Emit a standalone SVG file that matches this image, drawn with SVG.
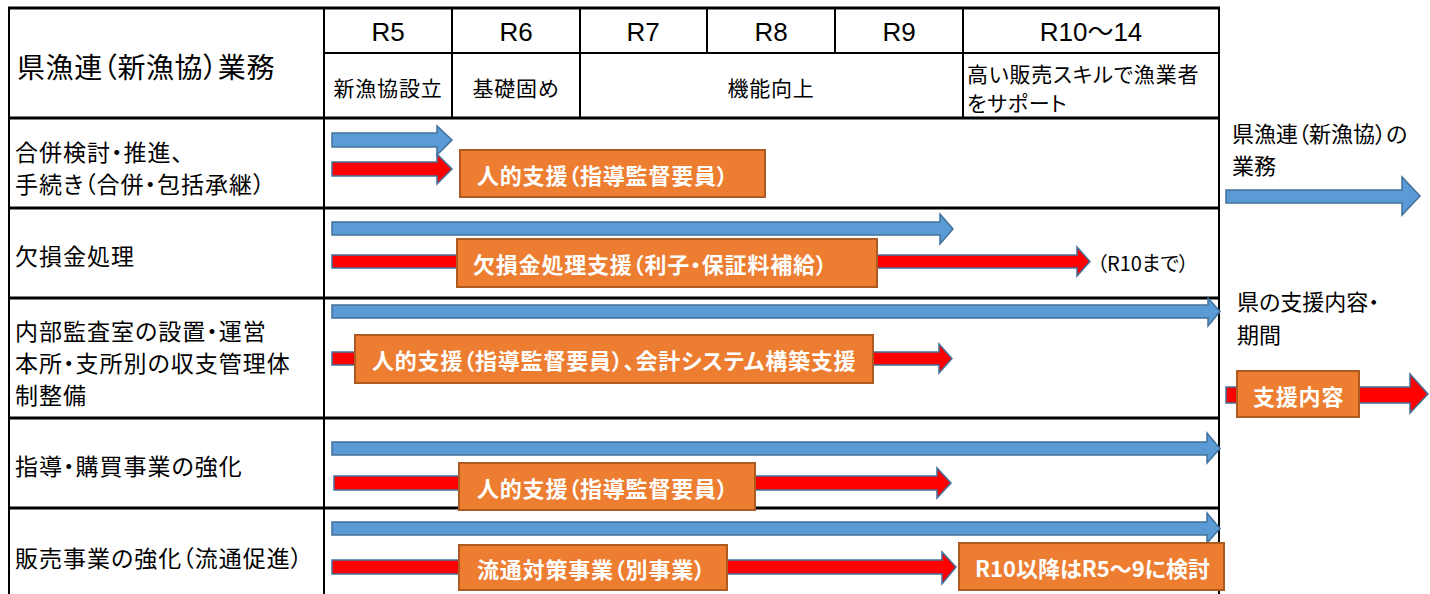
<svg xmlns="http://www.w3.org/2000/svg" width="1430" height="594" viewBox="0 0 1430 594">
<style>
text{font-family:"Noto Sans CJK JP","Liberation Sans",sans-serif;font-feature-settings:"palt";fill:#000;dominant-baseline:central}
.lat{font-family:"Liberation Sans","Noto Sans CJK JP",sans-serif;font-size:26px;text-anchor:middle;font-feature-settings:normal}
.lab{font-size:23px;letter-spacing:1px}
.hd{font-size:21px;letter-spacing:0.8px}
.bx{fill:#ED7D31;stroke:#AE5A21;stroke-width:2}
.bt{fill:#fff;font-weight:bold;font-size:22px;letter-spacing:0.8px}
.blue{fill:#5B9BD5;stroke:#41719C;stroke-width:1.5}
.red{fill:#FF0000;stroke:#41719C;stroke-width:1.5}
.thk{stroke:#000;stroke-width:3;fill:none}
.thn{stroke:#000;stroke-width:2;fill:none}
</style>
<rect width="1430" height="594" fill="#fff"/>
<g id="table">
<line class="thk" x1="8" y1="8" x2="1220" y2="8"/>
<line class="thn" x1="9" y1="8" x2="9" y2="594"/>
<line class="thn" x1="324" y1="8" x2="324" y2="594"/>
<line class="thn" x1="1219" y1="8" x2="1219" y2="594"/>
<line class="thn" x1="324" y1="53" x2="1219" y2="53"/>
<line class="thk" x1="9" y1="118" x2="1219" y2="118"/>
<line class="thk" x1="9" y1="208" x2="1219" y2="208"/>
<line class="thk" x1="9" y1="298" x2="1219" y2="298"/>
<line class="thk" x1="9" y1="418" x2="1219" y2="418"/>
<line class="thk" x1="9" y1="508" x2="1219" y2="508"/>
<line class="thn" x1="452" y1="8" x2="452" y2="118"/>
<line class="thn" x1="580" y1="8" x2="580" y2="118"/>
<line class="thn" x1="707" y1="8" x2="707" y2="53"/>
<line class="thn" x1="835" y1="8" x2="835" y2="53"/>
<line class="thn" x1="963" y1="8" x2="963" y2="118"/>
</g>
<g id="header">
<text x="17" y="66" style="font-size:28px;letter-spacing:0.6px">県漁連（新漁協）業務</text>
<text class="lat" x="388" y="32">R5</text>
<text class="lat" x="516" y="32">R6</text>
<text class="lat" x="643" y="32">R7</text>
<text class="lat" x="771" y="32">R8</text>
<text class="lat" x="899" y="32">R9</text>
<text class="lat" x="1091" y="32">R10～14</text>
<text class="hd" x="388" y="87" text-anchor="middle">新漁協設立</text>
<text class="hd" x="516" y="87" text-anchor="middle">基礎固め</text>
<text class="hd" x="771" y="87" text-anchor="middle">機能向上</text>
<text class="hd" x="967" y="73">高い販売スキルで漁業者</text>
<text class="hd" x="967" y="102">をサポート</text>
</g>
<g id="row-labels">
<text class="lab" x="15" y="151">合併検討・推進、</text>
<text class="lab" x="15" y="183">手続き（合併・包括承継）</text>
<text class="lab" x="15" y="255">欠損金処理</text>
<text class="lab" x="15" y="330">内部監査室の設置・運営</text>
<text class="lab" x="15" y="362">本所・支所別の収支管理体</text>
<text class="lab" x="15" y="394">制整備</text>
<text class="lab" x="15" y="465">指導・購買事業の強化</text>
<text class="lab" x="15" y="557">販売事業の強化（流通促進）</text>
</g>
<g id="connectors">
<polygon class="blue" points="332,133 437,133 437,126 452,140 437,155 437,147 332,147"/>
<polygon class="red" points="332,162 437,162 437,154 452,169 437,184 437,176 332,176"/>
<polygon class="blue" points="332,222 940,222 940,214 953,229 940,244 940,235 332,235"/>
<polygon class="red" points="332,255 1077,255 1077,247 1090,261.5 1077,276 1077,268 332,268"/>
<polygon class="blue" points="332,305 1208,305 1208,298 1220,311.5 1208,326 1208,318 332,318"/>
<polygon class="red" points="332,352 939,352 939,344 952,358.5 939,373 939,365 332,365"/>
<polygon class="blue" points="332,442 1207,442 1207,433 1220,448.5 1207,463 1207,455 332,455"/>
<polygon class="red" points="334,476 937,476 937,468 951,483 937,498 937,490 334,490"/>
<polygon class="blue" points="332,522 1207,522 1207,513 1220,528.5 1207,543 1207,535 332,535"/>
<polygon class="red" points="332,560 942,560 942,552 956,567 942,584 942,574 332,574"/>
<polygon class="blue" points="1226,190 1402,190 1402,177 1420,196 1402,215 1402,203 1226,203"/>
<polygon class="red" points="1226,387 1410,387 1410,374 1428,394 1410,413 1410,403 1226,403"/>
</g>
<g id="box-r1"><rect class="bx" x="460" y="150" width="305" height="47"/><text class="bt" x="477" y="174">人的支援（指導監督要員）</text></g>
<g id="box-r2"><rect class="bx" x="457" y="239" width="420" height="48"/><text class="bt" x="473" y="263">欠損金処理支援（利子・保証料補給）</text></g>
<g id="note-r2"><text x="1097" y="262" style="font-size:20px">（R10まで）</text></g>
<g id="box-r3"><rect class="bx" x="355" y="335" width="518" height="48"/><text class="bt" x="372" y="359">人的支援（指導監督要員）、会計システム構築支援</text></g>
<g id="box-r4"><rect class="bx" x="459" y="463" width="296" height="47"/><text class="bt" x="477" y="487">人的支援（指導監督要員）</text></g>
<g id="box-r5"><rect class="bx" x="459" y="545" width="268" height="45"/><text class="bt" x="477" y="568">流通対策事業（別事業）</text></g>
<g id="box-r5b"><rect class="bx" x="959" y="543" width="265" height="47"/><text class="bt" x="975" y="567" style="letter-spacing:0">R10以降はR5～9に検討</text></g>
<g id="legend">
<text x="1232" y="132" style="font-size:22px">県漁連（新漁協）の</text>
<text x="1232" y="164" style="font-size:22px">業務</text>
<text x="1237" y="300" style="font-size:22px">県の支援内容・</text>
<text x="1237" y="333" style="font-size:22px">期間</text>
</g>
<g id="box-legend"><rect class="bx" x="1237" y="371" width="122" height="46"/><text class="bt" x="1253" y="395">支援内容</text></g>
</svg>
